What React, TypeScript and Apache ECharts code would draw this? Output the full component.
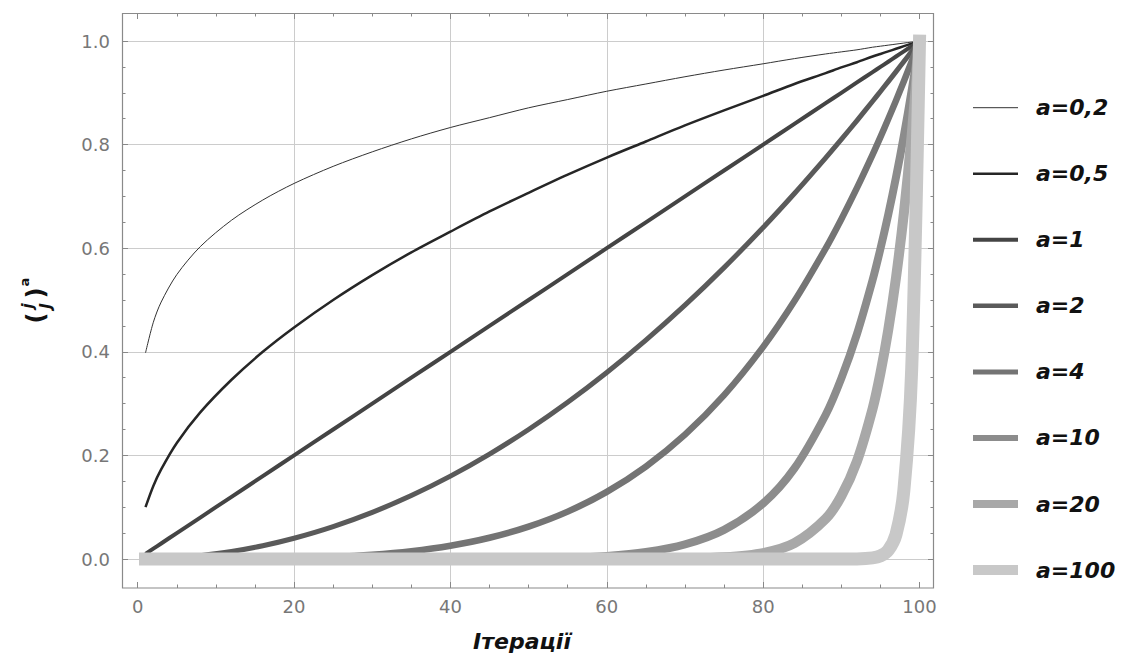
import React, { useEffect, useRef } from "react";
import * as echarts from "echarts";

const xValues = [1, 2, 3, 5, 8, 12, 16, 20, 25, 30, 35, 40, 45, 50, 55, 60, 65, 70, 75, 80, 84, 88, 90, 92, 94, 95, 96, 97, 98, 99, 100];

const yA02 = [0.398, 0.457, 0.496, 0.549, 0.603, 0.654, 0.693, 0.725, 0.758, 0.786, 0.811, 0.833, 0.852, 0.871, 0.887, 0.903, 0.917, 0.931, 0.944, 0.956, 0.966, 0.975, 0.979, 0.983, 0.988, 0.990, 0.992, 0.994, 0.996, 0.998, 1.0];
const yA05 = [0.1, 0.141, 0.173, 0.224, 0.283, 0.346, 0.4, 0.447, 0.5, 0.548, 0.592, 0.632, 0.671, 0.707, 0.742, 0.775, 0.806, 0.837, 0.866, 0.894, 0.917, 0.938, 0.949, 0.959, 0.970, 0.975, 0.980, 0.985, 0.990, 0.995, 1.0];
const yA1 = [0.01, 0.02, 0.03, 0.05, 0.08, 0.12, 0.16, 0.2, 0.25, 0.3, 0.35, 0.4, 0.45, 0.5, 0.55, 0.6, 0.65, 0.7, 0.75, 0.8, 0.84, 0.88, 0.9, 0.92, 0.94, 0.95, 0.96, 0.97, 0.98, 0.99, 1.0];
const yA2 = [0.0001, 0.0004, 0.0009, 0.0025, 0.0064, 0.0144, 0.0256, 0.04, 0.0625, 0.09, 0.1225, 0.16, 0.2025, 0.25, 0.3025, 0.36, 0.4225, 0.49, 0.5625, 0.64, 0.7056, 0.7744, 0.81, 0.8464, 0.8836, 0.9025, 0.9216, 0.9409, 0.9604, 0.9801, 1.0];
const yA4 = [0, 0, 0, 0, 0, 0.0002, 0.0007, 0.0016, 0.0039, 0.0081, 0.015, 0.0256, 0.041, 0.0625, 0.0915, 0.1296, 0.1785, 0.2401, 0.3164, 0.4096, 0.4979, 0.5997, 0.6561, 0.7164, 0.7807, 0.8145, 0.8493, 0.8853, 0.9224, 0.9606, 1.0];
const yA10 = [0, 0, 0, 0, 0, 0, 0, 0, 0, 0, 0, 0.0001, 0.0003, 0.001, 0.0025, 0.006, 0.0135, 0.0282, 0.0563, 0.1074, 0.1749, 0.2785, 0.3487, 0.4344, 0.5386, 0.5987, 0.6648, 0.7374, 0.8171, 0.9044, 1.0];
const yA20 = [0, 0, 0, 0, 0, 0, 0, 0, 0, 0, 0, 0, 0, 0, 0, 0, 0.0002, 0.0008, 0.0032, 0.0115, 0.0306, 0.0776, 0.1216, 0.1887, 0.2901, 0.3585, 0.442, 0.5438, 0.6676, 0.8179, 1.0];
const yA100 = [0, 0, 0, 0, 0, 0, 0, 0, 0, 0, 0, 0, 0, 0, 0, 0, 0, 0, 0, 0, 0, 0, 0, 0.0002, 0.0021, 0.0059, 0.0169, 0.0476, 0.1326, 0.366, 1.0];

const seriesNames = ["a=0,2", "a=0,5", "a=1", "a=2", "a=4", "a=10", "a=20", "a=100"];
const seriesValues = [yA02, yA05, yA1, yA2, yA4, yA10, yA20, yA100];
const seriesColors = ["#333333", "#262626", "#444444", "#5a5a5a", "#747474", "#8c8c8c", "#a8a8a8", "#c8c8c8"];
const seriesWidths = [1, 2.5, 4, 5, 6.5, 8, 10, 13];
const legendWidths = [1, 2.5, 4, 4.5, 5, 6, 8, 10];

const FONT = "DejaVu Sans";

export default function App() {
  const ref = useRef<HTMLDivElement>(null);

  useEffect(() => {
    if (!ref.current) return;
    const chart = echarts.init(ref.current, undefined, { renderer: "svg" });

    const tickStyle = { color: "#888888", width: 1 };
    const labelStyle = { color: "#777777", fontFamily: FONT, fontSize: 18 };

    const series = seriesNames.map((name, i) => ({
      name,
      type: "line",
      xAxisIndex: 0,
      yAxisIndex: 0,
      data: xValues.map((x, j) => [x, seriesValues[i][j]]),
      showSymbol: false,
      symbol: "none",
      smooth: 0.3,
      clip: false,
      lineStyle: {
        color: seriesColors[i],
        width: seriesWidths[i],
        cap: i === seriesNames.length - 1 ? "square" : "butt",
        join: "round",
      },
      z: 2 + i,
    }));

    const legendItems: any[] = [];
    seriesNames.forEach((name, i) => {
      const y = 107.7 + 66.05 * i;
      legendItems.push({
        type: "line",
        shape: { x1: 973, y1: y, x2: 1018, y2: y },
        style: { stroke: seriesColors[i], lineWidth: legendWidths[i] },
      });
      legendItems.push({
        type: "text",
        x: 1036,
        y: y,
        style: {
          text: name,
          fill: "#111111",
          font: `italic bold 22px "${FONT}"`,
          verticalAlign: "middle",
        },
      });
    });

    const yLabelParts: any[] = [
      { type: "text", x: -18, y: 0, style: { text: "(", fill: "#111", font: `bold 24px "${FONT}"`, align: "center", verticalAlign: "middle" } },
      { type: "text", x: -6, y: -8, style: { text: "j", fill: "#111", font: `italic bold 15px "${FONT}"`, align: "center", verticalAlign: "middle" } },
      { type: "text", x: -6, y: 10, style: { text: "J", fill: "#111", font: `italic bold 15px "${FONT}"`, align: "center", verticalAlign: "middle" } },
      { type: "text", x: 7, y: 0, style: { text: ")", fill: "#111", font: `bold 24px "${FONT}"`, align: "center", verticalAlign: "middle" } },
      { type: "text", x: 18, y: -12, style: { text: "a", fill: "#111", font: `bold 13px "${FONT}"`, align: "center", verticalAlign: "middle" } },
    ];

    const option: any = {
      animation: false,
      backgroundColor: "#ffffff",
      grid: [
        { left: 137.7, top: 41, width: 781.8, height: 518 },
        { left: 137.7, top: 13, width: 781.8, height: 575 },
        { left: 122, top: 41, width: 812, height: 518 },
      ],
      xAxis: [
        { gridIndex: 0, type: "value", min: 0, max: 100, show: false },
        {
          gridIndex: 1,
          type: "value",
          min: 0,
          max: 100,
          interval: 20,
          position: "bottom",
          axisLine: { show: false },
          axisTick: { show: true, inside: true, length: 6, lineStyle: tickStyle },
          minorTick: { show: true, splitNumber: 4, length: 3.5, lineStyle: tickStyle },
          axisLabel: { ...labelStyle, margin: 9 },
          splitLine: { show: true, showMinLine: false, showMaxLine: false, lineStyle: { color: "#cccccc", width: 1 } },
        },
        {
          gridIndex: 1,
          type: "value",
          min: 0,
          max: 100,
          interval: 20,
          position: "top",
          axisLine: { show: false },
          axisTick: { show: true, inside: true, length: 6, lineStyle: tickStyle },
          minorTick: { show: true, splitNumber: 4, length: 3.5, lineStyle: tickStyle },
          axisLabel: { show: false },
          splitLine: { show: false },
        },
        { gridIndex: 2, type: "value", min: 0, max: 100, show: false },
      ],
      yAxis: [
        { gridIndex: 0, type: "value", min: 0, max: 1, show: false },
        { gridIndex: 1, type: "value", min: 0, max: 1, show: false },
        {
          gridIndex: 2,
          type: "value",
          min: 0,
          max: 1,
          interval: 0.2,
          position: "left",
          axisLine: { show: false },
          axisTick: { show: true, inside: true, length: 6, lineStyle: tickStyle },
          minorTick: { show: true, splitNumber: 4, length: 3.5, lineStyle: tickStyle },
          axisLabel: { ...labelStyle, margin: 12, formatter: (v: number) => v.toFixed(1) },
          splitLine: { show: true, lineStyle: { color: "#cccccc", width: 1 } },
        },
        {
          gridIndex: 2,
          type: "value",
          min: 0,
          max: 1,
          interval: 0.2,
          position: "right",
          axisLine: { show: false },
          axisTick: { show: true, inside: true, length: 6, lineStyle: tickStyle },
          minorTick: { show: true, splitNumber: 4, length: 3.5, lineStyle: tickStyle },
          axisLabel: { show: false },
          splitLine: { show: false },
        },
      ],
      series,
      graphic: [
        {
          type: "rect",
          shape: { x: 122.5, y: 13.5, width: 811, height: 574.5 },
          style: { fill: "none", stroke: "#8a8a8a", lineWidth: 1.2 },
          z: 100,
        },
        ...legendItems,
        {
          type: "text",
          x: 522,
          y: 641,
          style: {
            text: "Ітерації",
            fill: "#111111",
            font: `italic bold 22px "${FONT}"`,
            align: "center",
            verticalAlign: "middle",
          },
        },
        {
          type: "group",
          x: 36,
          y: 300,
          rotation: Math.PI / 2,
          children: yLabelParts,
        },
      ],
    };

    chart.setOption(option);
    return () => {
      chart.dispose();
    };
  }, []);

  return (
    <div
      ref={ref}
      style={{ position: "fixed", left: 0, top: 0, width: 1123, height: 655, background: "#ffffff" }}
    />
  );
}
